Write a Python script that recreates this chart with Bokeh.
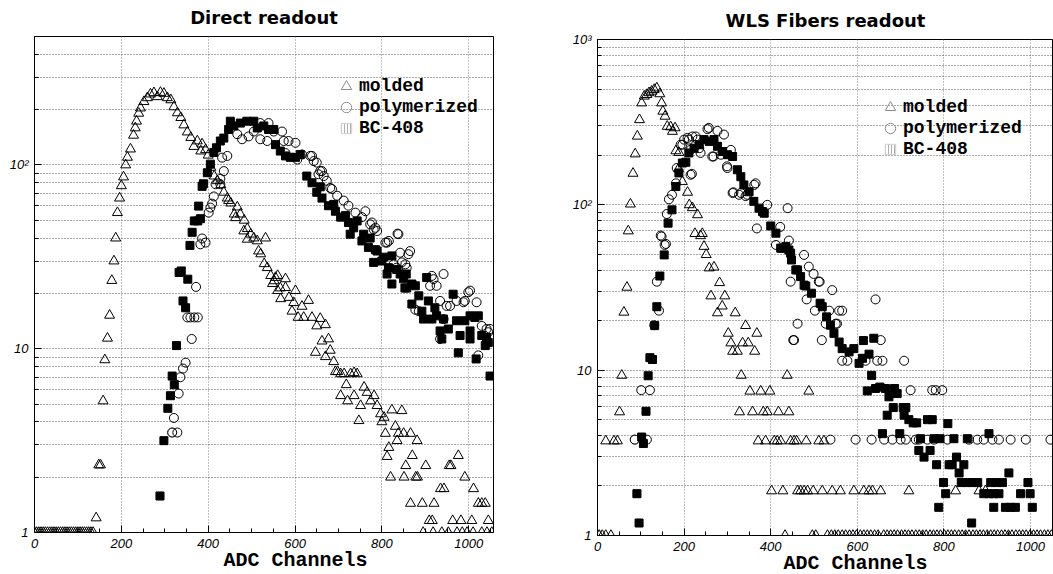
from bokeh.plotting import figure
from bokeh.layouts import row, column
from bokeh.models import FixedTicker, CustomJSTickFormatter, Legend, LegendItem, Title, Spacer
from bokeh.embed import file_html
from bokeh.resources import INLINE

# ---------------- data ----------------
x_major_ticks = [0, 200, 400, 600, 800, 1000]
x_minor_ticks = [50, 100, 150, 250, 300, 350, 450, 500, 550, 650, 700, 750, 850, 900, 950, 1050]
left_y_major = [1, 10, 100]
left_y_minor = [2, 3, 4, 5, 6, 7, 8, 9, 20, 30, 40, 50, 60, 70, 80, 90, 200, 300, 400, 500]
right_y_major = [1, 10, 100, 1000]
right_y_minor = [2, 3, 4, 5, 6, 7, 8, 9, 20, 30, 40, 50, 60, 70, 80, 90,
                 200, 300, 400, 500, 600, 700, 800, 900]

series_labels = ["molded", "polymerized", "BC-408"]
x_axis_title = "ADC Channels"

direct_molded = [
    (0, 1), (5, 1), (10, 1), (15, 1), (20, 1), (25, 1), (30, 1), (35, 1), (40, 1), (45, 1),
    (50, 1), (55, 1), (60, 1), (65, 1), (70, 1), (75, 1), (80, 1), (85, 1), (90, 1), (95, 1),
    (100, 1), (105, 1), (110, 1), (115, 1), (120, 1), (125, 1), (130, 1), (135, 1),
    (142, 1.2), (148, 2.33), (152, 2.33), (158, 5.2), (162, 8.7), (168, 11.4), (173, 15.2),
    (178, 23.5), (183, 30), (187, 40), (191, 55), (196, 66), (200, 77), (205, 86), (210, 100),
    (214, 110), (221, 122), (228, 145), (232, 159), (235, 173), (240, 191), (244, 204),
    (252, 221), (260, 232), (267, 243), (275, 247), (283, 235), (290, 248), (298, 245),
    (306, 232), (314, 226), (321, 207), (329, 192), (337, 181), (344, 165), (352, 151),
    (360, 141), (367, 126), (375, 135), (383, 119), (386, 130), (394, 121), (400, 113),
    (406, 97), (414, 87), (421, 82), (429, 78), (436, 71), (444, 66), (447, 64), (452, 62),
    (460, 54), (463, 51.6), (467, 59), (474, 54), (483, 50), (490, 45), (482, 43.7),
    (498, 42), (505, 40), (513, 38.6), (532, 40), (490, 39.4), (516, 34), (521, 32.8),
    (529, 29), (536, 27.6), (544, 25), (552, 23.4), (555, 24.4), (560, 25), (578, 24),
    (548, 22.6), (560, 20.7), (566, 21.4), (567, 18.7), (578, 21.5), (586, 19), (601, 20.7),
    (593, 16), (597, 17.8), (607, 14.8), (616, 17), (620, 14.8), (631, 18.3), (639, 14.8),
    (650, 13.3), (658, 14.6), (670, 13.5), (647, 9.55), (662, 11), (677, 11.3), (681, 9.8),
    (670, 9.05), (689, 8.5), (693, 7.5), (698, 7.5), (705, 7.3), (713, 7.3), (718, 6.37),
    (728, 7.3), (736, 7.4), (743, 7.3), (705, 5.55), (721, 5.2), (736, 5.55), (751, 4.9),
    (759, 6.17), (766, 5.78), (774, 5.2), (782, 5.55), (789, 4.9), (747, 4.06), (797, 4.42),
    (805, 4.23), (800, 4.0), (808, 3.46), (823, 4.64), (831, 3.78), (838, 3.46), (846, 4.6),
    (850, 3.46), (835, 3.16), (816, 2.9), (812, 2.59), (866, 3.46), (881, 3.16), (820, 2.0),
    (851, 2.0), (855, 2.31), (870, 2.62), (878, 2.0), (882, 2.0), (901, 2.31), (866, 1.44),
    (893, 1.44), (920, 1.44), (909, 1.16), (916, 1.16), (935, 1.73), (943, 1.73), (955, 2.31),
    (959, 2.31), (976, 2.62), (991, 2.0), (1011, 1.73), (963, 1.16), (982, 1.16), (1007, 1.16),
    (1022, 1.44), (1030, 1.44), (1038, 1.44), (1045, 1.16),
    (895, 1), (918, 1), (938, 1), (953, 1), (973, 1), (985, 1), (996, 1), (1010, 1),
    (1030, 1), (1042, 1), (1053, 1),
]

direct_polymerized = [
    (317, 3.5), (329, 3.5), (321, 4.2), (332, 5.7), (336, 7.0), (342, 7.8), (348, 8.4),
    (362, 11.3), (352, 14.8), (359, 14.8), (368, 14.8), (376, 14.8), (372, 21.7), (382, 37),
    (386, 39.8), (394, 37.8), (401, 55), (405, 58.6), (409, 61.6), (413, 67.4), (417, 78.5),
    (428, 78.5), (428, 84), (436, 92.6), (432, 109.6), (444, 112), (467, 147), (478, 138),
    (493, 143), (505, 152), (520, 169), (539, 169), (520, 138), (536, 135), (551, 152),
    (570, 152), (574, 135), (585, 135), (601, 132), (578, 116), (605, 107), (616, 114),
    (635, 112), (643, 105), (639, 112), (650, 103), (654, 89), (658, 92.6), (662, 92.6),
    (666, 87), (673, 82), (681, 75), (685, 74), (697, 68), (712, 64), (723, 60), (739, 55),
    (754, 52), (762, 56), (773, 47.5), (777, 48.6), (781, 44.6), (785, 45.5), (789, 43.7),
    (808, 37.8), (812, 37.8), (816, 38.6), (836, 42.3), (838, 42), (842, 33.3), (861, 32.7),
    (865, 34), (827, 28.8), (834, 27.6), (846, 29.5), (854, 28.8), (857, 27.6), (877, 16.3),
    (885, 16), (911, 22), (915, 24.9), (926, 22), (942, 25.5), (919, 23.9), (934, 18.2),
    (949, 17.1), (957, 17.1), (972, 18.2), (988, 17.9), (991, 18.2), (999, 20.3), (1003, 20.7),
    (1018, 17.9), (942, 14.5), (1030, 13.3), (1041, 12.8), (1049, 12.8), (1045, 12.3),
    (934, 11.3), (1022, 9.2),
]

direct_bc408 = [
    (289, 1.58), (298, 3.16), (307, 4.74), (313, 5.55), (322, 6.37), (317, 7.1), (327, 10.4),
    (342, 18.2), (348, 16.7), (333, 26), (338, 26.5), (353, 23.9), (358, 36.5), (363, 43),
    (368, 49.6), (376, 49.6), (382, 51), (378, 59.7), (386, 76.5), (389, 79), (398, 90.7),
    (405, 101), (413, 117), (419, 124), (428, 135), (436, 140), (447, 156), (451, 173),
    (459, 163), (474, 169), (489, 173), (505, 173), (513, 159), (528, 163), (539, 156),
    (551, 156), (555, 129), (566, 119), (578, 112), (589, 110), (601, 110), (612, 114),
    (627, 87), (639, 80), (650, 71), (658, 76), (662, 66), (677, 60), (689, 61), (693, 56),
    (705, 52), (716, 53), (723, 48.6), (727, 42), (735, 45.5), (743, 49.6), (754, 38.6),
    (758, 42), (769, 35.6), (773, 40), (785, 34.6), (789, 34), (781, 29.5), (800, 30),
    (804, 31.5), (815, 27.6), (823, 32), (812, 25.5), (834, 27), (842, 25.5), (850, 24),
    (856, 25.5), (823, 22.5), (853, 21.4), (869, 22.5), (877, 22), (857, 21.4), (885, 19.4),
    (903, 24.4), (869, 17.5), (892, 16), (907, 18.2), (922, 16.7), (896, 14.5), (915, 14.5),
    (926, 15.1), (934, 12.5), (953, 12.8), (938, 11.3), (942, 14.5), (964, 19.8), (972, 14.2),
    (991, 14.2), (1003, 15.1), (1014, 14.8), (1022, 15.1), (1003, 12.5), (980, 11.8),
    (1003, 11.3), (1030, 11.8), (1038, 10.4), (1041, 11.5), (1045, 10.8), (976, 9.5),
    (1017, 8.8), (1049, 7.1),
]

wls_molded = [
    (4, 1), (11, 1), (19, 1), (31, 1), (433, 1), (496, 1), (504, 1), (531, 1), (540, 1),
    (548, 1), (556, 1), (565, 1), (573, 1), (582, 1), (590, 1), (598, 1), (607, 1), (615, 1),
    (623, 1), (631, 1), (640, 1), (648, 1), (661, 1), (669, 1), (677, 1), (685, 1), (693, 1),
    (702, 1), (710, 1), (718, 1), (726, 1), (735, 1), (743, 1), (751, 1), (759, 1), (768, 1),
    (776, 1), (784, 1), (792, 1), (801, 1), (809, 1), (817, 1), (825, 1), (834, 1), (842, 1),
    (850, 1), (858, 1), (867, 1), (875, 1), (883, 1), (891, 1), (900, 1), (908, 1), (916, 1),
    (924, 1), (933, 1), (941, 1), (949, 1), (957, 1), (966, 1), (974, 1), (982, 1), (990, 1),
    (999, 1), (1007, 1), (1015, 1), (1023, 1), (1032, 1), (1040, 1), (1048, 1),
    (19, 3.73), (38, 3.73), (46, 3.73), (51, 5.59), (56, 9.3), (61, 22.4), (68, 31.7),
    (71, 69.5), (76, 101), (82, 155), (87, 203), (92, 260), (97, 327), (102, 413), (108, 454),
    (114, 464), (119, 476), (125, 486), (131, 498), (137, 509), (144, 469), (148, 413),
    (151, 368), (156, 343), (161, 298), (169, 296), (173, 278), (179, 292), (181, 212),
    (188, 207), (187, 165), (196, 138), (208, 119), (212, 100), (219, 96), (231, 87),
    (225, 67), (238, 65), (242, 67), (246, 56), (251, 50), (258, 41.5), (269, 42),
    (282, 33.8), (262, 28.1), (294, 28.1), (288, 24.4), (277, 22.2), (318, 22.2), (342, 18.6),
    (302, 16.7), (368, 16.7), (308, 14.6), (335, 14.6), (348, 14.6), (312, 13), (323, 13),
    (363, 13), (332, 9.3), (438, 9.3), (352, 7.46), (377, 7.46), (398, 7.46), (488, 7.46),
    (328, 5.59), (358, 5.59), (383, 5.59), (392, 5.59), (418, 5.59), (442, 5.59), (371, 3.73),
    (388, 3.73), (408, 3.73), (415, 3.73), (423, 3.73), (446, 3.73), (454, 3.73), (460, 3.73),
    (482, 3.73), (511, 3.73), (523, 3.73), (402, 1.86), (428, 1.86), (462, 1.86), (469, 1.86),
    (477, 1.86), (485, 1.86), (498, 1.86), (519, 1.86), (542, 1.86), (561, 1.86), (592, 1.86),
    (615, 1.86), (627, 1.86), (635, 1.86), (654, 1.86), (719, 1.86), (827, 1.86), (881, 1.86),
    (896, 1.86),
]

wls_polymerized = [
    (86, 3.8), (114, 3.8), (101, 7.57), (121, 7.57), (131, 18.7), (142, 22.9), (137, 34.3),
    (146, 65.2), (148, 64.3), (155, 57.2), (158, 58), (160, 88), (165, 108), (172, 115),
    (181, 135), (183, 167), (192, 231), (196, 231), (200, 248), (208, 254), (211, 248),
    (215, 215), (215, 152), (218, 154), (219, 259), (227, 259), (231, 248), (235, 220),
    (238, 206), (254, 287), (257, 292), (265, 196), (268, 196), (277, 280), (285, 201),
    (292, 266), (299, 171), (300, 167), (308, 215), (312, 118), (314, 119), (327, 115),
    (331, 118), (342, 113), (346, 115), (362, 132), (365, 135), (368, 72), (392, 100),
    (412, 57.2), (422, 73.5), (439, 95.5), (442, 60.8), (446, 34.3), (452, 15.2), (454, 15.2),
    (462, 19.1), (477, 49.8), (483, 26.8), (488, 42.3), (499, 38.2), (502, 22.9), (511, 34.3),
    (513, 34.3), (518, 15.2), (527, 19.1), (535, 22.9), (538, 3.8), (542, 30.5), (550, 19.1),
    (553, 19.1), (558, 22.9), (565, 22.9), (565, 11.4), (577, 11.4), (596, 3.8), (619, 11.4),
    (633, 3.8), (642, 26.8), (646, 11.4), (654, 15.2), (658, 11.4), (662, 3.8), (681, 3.8),
    (700, 3.8), (708, 11.4), (712, 3.8), (723, 7.57), (735, 3.8), (742, 3.8), (762, 3.8),
    (773, 7.57), (777, 3.8), (781, 7.57), (796, 7.57), (808, 3.8), (858, 3.8), (877, 3.8),
    (892, 3.8), (912, 3.8), (927, 3.8), (954, 3.8), (989, 3.8), (1046, 3.8),
]

wls_bc408 = [
    (91, 1.79), (96, 1.19), (102, 3.94), (106, 3.6), (112, 5.64), (117, 9.25), (121, 11.9),
    (127, 11.6), (132, 18.6), (137, 24.2), (144, 37.1), (154, 49.8), (163, 77.5), (172, 93.3),
    (181, 129), (188, 156), (196, 179), (204, 181), (211, 206), (223, 220), (235, 231),
    (246, 248), (258, 242), (269, 248), (277, 226), (289, 210), (300, 201), (312, 196),
    (323, 163), (331, 148), (338, 132), (350, 120), (361, 105), (373, 95.5), (381, 91),
    (385, 89), (400, 74.5), (412, 67.4), (423, 54.7), (427, 54.7), (435, 55.9), (442, 53.3),
    (446, 51), (448, 46.4), (458, 40.4), (462, 40.4), (469, 36.8), (477, 32.7), (481, 32.3),
    (494, 29.2), (514, 25.4), (519, 24.2), (529, 21), (538, 18.7), (546, 16.7), (558, 14.8),
    (565, 13.5), (581, 12.9), (592, 13.5), (604, 11), (612, 11.8), (614, 15.1), (627, 12.5),
    (633, 9.3), (638, 15.6), (623, 7.49), (642, 7.75), (652, 7.9), (665, 7.75), (686, 7.75),
    (692, 7.22), (673, 6.9), (683, 5.94), (669, 5.34), (706, 5.94), (712, 5.94), (708, 5.34),
    (719, 5.02), (729, 4.8), (737, 4.8), (762, 5.02), (773, 5.02), (658, 4.13), (698, 4.13),
    (746, 3.85), (777, 3.85), (791, 3.85), (809, 4.75), (823, 3.85), (854, 3.85), (904, 4.13),
    (742, 3.27), (768, 3.27), (754, 2.98), (783, 2.68), (812, 2.68), (819, 2.68), (829, 2.98),
    (835, 2.39), (846, 2.68), (799, 2.09), (840, 2.09), (854, 2.09), (865, 2.09), (878, 2.09),
    (908, 2.09), (923, 2.09), (935, 2.09), (950, 2.39), (994, 2.09), (804, 1.79), (892, 1.79),
    (904, 1.79), (915, 1.79), (927, 1.79), (977, 1.79), (999, 1.79), (788, 1.48), (915, 1.48),
    (942, 1.48), (954, 1.48), (965, 1.48), (1004, 1.48), (864, 1.19),
]

# ---------------- styling ----------------
TICK_FONT = "Liberation Sans"
MONO = "Liberation Mono"

log_fmt = CustomJSTickFormatter(code="""
if (tick >= 1000) { return "10\u00b3"; }
if (tick >= 100) { return "10\u00b2"; }
return String(tick);
""")


def make_panel(title, width, height, x_end, y_end, y_major, y_minor, molded, poly, bc,
               mb_left, mb_right, mb_top, mb_bottom, legend_x, legend_ys):
    p = figure(width=width, height=height, x_range=(0, x_end), y_range=(1, y_end),
               y_axis_type="log", output_backend="svg", toolbar_location=None,
               min_border_left=mb_left, min_border_right=mb_right,
               min_border_top=mb_top, min_border_bottom=mb_bottom,
               title=title)
    p.background_fill_color = "white"
    p.border_fill_color = "white"
    p.outline_line_color = "black"
    p.outline_line_width = 1

    p.title.align = "center"
    p.title.vertical_align = "top"
    p.title.text_font = "DejaVu Sans"
    p.title.text_font_style = "bold"
    p.title.text_font_size = "18px"
    p.title.text_color = "black"
    p.title.standoff = 13

    xt = FixedTicker(ticks=x_major_ticks, minor_ticks=x_minor_ticks)
    yt = FixedTicker(ticks=y_major, minor_ticks=y_minor)
    p.xaxis.ticker = xt
    p.yaxis.ticker = yt
    p.xgrid.ticker = xt
    p.ygrid.ticker = yt
    p.yaxis.formatter = log_fmt

    for ax in (p.xaxis[0], p.yaxis[0]):
        ax.major_tick_in = 7
        ax.major_tick_out = 0
        ax.minor_tick_in = 4
        ax.minor_tick_out = 0
        ax.axis_line_color = "black"
        ax.major_tick_line_color = "black"
        ax.minor_tick_line_color = "black"
        ax.major_label_text_font = TICK_FONT
        ax.major_label_text_font_style = "italic"
        ax.major_label_text_font_size = "13px"
        ax.major_label_text_color = "black"
    p.xaxis.major_label_standoff = 6
    p.yaxis.major_label_standoff = 6

    p.xgrid.grid_line_color = "#808080"
    p.xgrid.grid_line_dash = "1 2"
    p.ygrid.grid_line_color = "#555555"
    p.ygrid.grid_line_dash = "1 2"
    p.ygrid.minor_grid_line_color = "#555555"
    p.ygrid.minor_grid_line_dash = "1 2"

    # x-axis title, right-aligned like the reference (below the tick labels)
    p.add_layout(Title(text=x_axis_title, align="right", offset=126, vertical_align="top",
                       text_font=MONO, text_font_style="bold", text_font_size="20px",
                       text_color="black", standoff=-4), "below")

    mx, my = zip(*molded)
    px_, py_ = zip(*poly)
    bx, by = zip(*bc)

    # key glyphs (grey, as in the reference key); each sits under the first
    # point of its own series, which is drawn over it in black
    lm = p.scatter(list(mx[:1]), list(my[:1]), marker="triangle", size=10,
                   line_color="#8c8c8c", fill_color=None)
    lp = p.scatter(list(px_[:1]), list(py_[:1]), marker="circle", size=9,
                   line_color="#8c8c8c", fill_color=None)
    lb = p.scatter(list(bx[:1]), list(by[:1]), marker="square", size=8,
                   line_color="#cfcfcf", fill_color="white",
                   hatch_pattern="|", hatch_color="#b0b0b0", hatch_scale=3, hatch_weight=1)

    p.scatter(list(mx), list(my), marker="triangle", size=10, line_color="black",
              fill_color=None, line_width=1)
    p.scatter(list(bx), list(by), marker="square", size=8, line_color="black",
              fill_color="black")
    p.scatter(list(px_), list(py_), marker="circle", size=9, line_color="black",
              fill_color=None, line_width=1)

    for label, rend, ly in zip(series_labels, (lm, lp, lb), legend_ys):
        leg = Legend(items=[LegendItem(label=label, renderers=[rend])],
                     location=(legend_x, ly), glyph_width=26, glyph_height=26,
                     label_height=19, padding=0, margin=0, label_standoff=0,
                     border_line_color=None, background_fill_alpha=0,
                     label_text_font=MONO, label_text_font_style="bold",
                     label_text_font_size="18px", label_text_color="black")
        p.add_layout(leg)
    return p


p1 = make_panel("Direct readout", 560, 574, 1057, 500, left_y_major, left_y_minor,
                direct_molded, direct_polymerized, direct_bc408,
                34, 67, 36, 42, 299, (433, 412, 391))
p2 = make_panel("WLS Fibers readout", 493, 571, 1053, 1000, right_y_major, right_y_minor,
                wls_molded, wls_polymerized, wls_bc408,
                37, 0, 36, 39, 280, (415, 394, 373))

layout = row(p1, column(Spacer(width=493, height=3), p2, spacing=0), spacing=0)
open("out.html", "w").write(file_html(layout, INLINE))
